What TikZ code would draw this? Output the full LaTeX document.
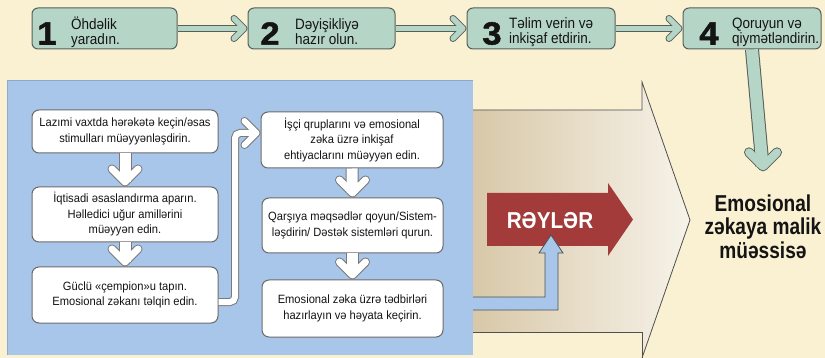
\documentclass[tikz,border=0pt]{standalone}
\usepackage{fontspec}
\setmainfont{Liberation Sans}
\newfontfamily\condfont{Liberation Sans}[FakeStretch=0.9]
\newfontfamily\boxfont{Liberation Sans}[FakeStretch=0.93]
\newfontfamily\numfont{Liberation Sans}[FakeStretch=1.08, BoldFeatures={FakeBold=1.6}]
\newfontfamily\goalfont{Liberation Sans}[FakeStretch=0.83]
\newfontfamily\redfont{Liberation Sans}[FakeStretch=0.9]
\usetikzlibrary{calc}
\definecolor{bgc}{HTML}{FAF0D2}
\definecolor{tealc}{HTML}{B5D5C7}
\definecolor{topline}{HTML}{56605B}
\definecolor{panelc}{HTML}{A8C6E9}
\definecolor{panelline}{HTML}{8FA9C8}
\definecolor{pline}{HTML}{6A6A6A}
\definecolor{wline}{HTML}{7A7A7A}
\definecolor{redc}{HTML}{A23B39}
\definecolor{tanl}{HTML}{D8C8A8}
\definecolor{tanr}{HTML}{F7F3EA}
\definecolor{inkc}{HTML}{141414}
\definecolor{arrline}{HTML}{4F4F4F}
% block connector: #1 path, #2 tip, #3 angle, #4 shaft width, #5 head size, #6 arm width, #7 kind
\newcommand\blockconn[7]{%
  \draw[#7out, line width=#4pt+2pt, shorten >=#6pt/2+1pt] #1;
  \draw[#7out, line width=#6pt+2pt, line cap=round, line join=round, shift={#2}, rotate=#3]
     (-#5-#6/2-1,-#5) -- (-#6/2-1,0) -- (-#5-#6/2-1,#5);
  \draw[#7in, line width=#4pt, shorten >=#6pt/2+1pt] #1;
  \draw[#7in, line width=#6pt, line cap=round, line join=round, shift={#2}, rotate=#3]
     (-#5-#6/2-1,-#5) -- (-#6/2-1,0) -- (-#5-#6/2-1,#5);
}
\begin{document}
\begin{tikzpicture}[x=1pt,y=-1pt,
  topbox/.style={draw=topline, fill=tealc, rounded corners=6pt, line width=1pt, minimum height=41pt, inner sep=0pt},
  numlbl/.style={font=\numfont\bfseries\fontsize{32}{32}\selectfont, inner sep=0pt, text=inkc},
  toplbl/.style={font=\condfont\fontsize{15}{15}\selectfont, align=left, anchor=west, inner sep=0pt, text=inkc},
  pbox/.style={draw=pline, fill=white, rounded corners=7pt, line width=1pt, align=center, inner sep=0pt, font=\boxfont\fontsize{12}{15.5}\selectfont, text=inkc},
  tealout/.style={draw=topline}, tealin/.style={draw=tealc},
  whiteout/.style={draw=wline}, whitein/.style={draw=white},
  shapeline/.style={draw=arrline, line width=0.8pt, line join=miter},
]
\useasboundingbox (0,0) rectangle (825,358);
\fill[bgc] (0,0) rectangle (825,358);

% panel
\fill[panelc] (7,80) rectangle (473,355);
\draw[panelline, line width=0.8pt] (473,80) -- (7,80) -- (7,355);

% big beige arrow
\shade[left color=tanl, right color=tanr] (473,110) -- (642,110) -- (642,82) -- (690,220) -- (642,358) -- (642,332) -- (473,332) -- cycle;
\draw[shapeline] (473,110) -- (642,110) -- (642,82) -- (690,220) -- (642,358);
\draw[shapeline] (642,358) -- (642,332) -- (473,332);

% red arrow
\fill[redc] (487,193) -- (608,193) -- (608,183) -- (633,219.5) -- (608,256) -- (608,246) -- (487,246) -- cycle;
\node[font=\redfont\bfseries\fontsize{23}{23}\selectfont, text=white, inner sep=0pt] (reyler) at (550,221) {RƏYLƏR};

% blue L arrow
\fill[panelc] (473,297) -- (545,297) -- (545,253) -- (539,253) -- (551,235) -- (563,253) -- (558,253) -- (558,310) -- (473,310) -- cycle;
\draw[shapeline] (473,297) -- (545,297) -- (545,253) -- (539,253) -- (551,235) -- (563,253) -- (558,253) -- (558,310) -- (473,310);

% top boxes
\node[topbox, minimum width=145pt] (t1) at (104.5,28.5) {};
\node[topbox, minimum width=147pt] (t2) at (321.5,28.5) {};
\node[topbox, minimum width=148pt] (t3) at (541,28.5) {};
\node[topbox, minimum width=138pt] (t4) at (752,28.5) {};
\node[numlbl] (n1) at (47,33.5) {1};
\node[numlbl] (n2) at (270,33.5) {2};
\node[numlbl] (n3) at (492,33.5) {3};
\node[numlbl] (n4) at (709,33.5) {4};
\node[toplbl] (x1) at (71,32) {Öhdəlik\\yaradın.};
\node[toplbl] (x2) at (295,32) {Dəyişikliyə\\hazır olun.};
\node[toplbl] (x3) at (509,32) {Təlim verin və\\inkişaf etdirin.};
\node[toplbl] (x4) at (732,32) {Qoruyun və\\qiymətləndirin.};

% goal text
\node[font=\goalfont\bfseries\fontsize{23}{23.5}\selectfont, align=center, inner sep=0pt, text=inkc] (goal) at (763,226.5) {Emosional\\zəkaya malik\\müəssisə};
\coordinate (gtip) at ([yshift=23pt]goal.north);

% panel boxes
\node[pbox, minimum width=186pt, minimum height=43pt] (A) at (125,131.5) {Lazımi vaxtda hərəkətə keçin/əsas\\stimulları müəyyənləşdirin.};
\node[pbox, minimum width=186pt, minimum height=55pt] (B) at (125,214.5) {İqtisadi əsaslandırma aparın.\\Həlledici uğur amillərini\\müəyyən edin.};
\node[pbox, minimum width=186pt, minimum height=56pt] (C) at (125,295) {Güclü «çempion»u tapın.\\Emosional zəkanı təlqin edin.};
\node[pbox, minimum width=182pt, minimum height=56pt] (D) at (352,140) {İşçi qruplarını və emosional\\zəka üzrə inkişaf\\ehtiyaclarını müəyyən edin.};
\node[pbox, minimum width=181pt, minimum height=55pt] (E) at (352.5,225.5) {Qarşıya məqsədlər qoyun/Sistem-\\ləşdirin/ Dəstək sistemləri qurun.};
\node[pbox, minimum width=181pt, minimum height=57pt] (F) at (352.5,308.5) {Emosional zəka üzrə tədbirləri\\hazırlayın və həyata keçirin.};

% connectors
\blockconn{(t1.east) -- (t2.west)}{(t2.west)}{0}{5}{10}{5}{teal}
\blockconn{(t2.east) -- (t3.west)}{(t3.west)}{0}{5}{10}{5}{teal}
\blockconn{(t3.east) -- (t4.west)}{(t4.west)}{0}{5}{10}{5}{teal}
\blockconn{(t4.south) -- (gtip)}{(gtip)}{-90}{12}{14}{8}{teal}

\blockconn{(A.south) -- (B.north)}{(B.north)}{-90}{11}{13}{7}{white}
\blockconn{(B.south) -- (C.north)}{(C.north)}{-90}{11}{13}{7}{white}
\blockconn{(D.south) -- (E.north)}{(E.north)}{-90}{11}{13}{7}{white}
\blockconn{(E.south) -- (F.north)}{(F.north)}{-90}{11}{13}{7}{white}

\coordinate (Cs) at ([yshift=-7pt]C.east);
\coordinate (Ds) at ([yshift=7pt]D.west);
\coordinate (elb) at (235,200);
\blockconn{[rounded corners=5pt] (Cs) -- (Cs -| elb) -- (elb |- Ds) -- (Ds)}{(Ds)}{0}{6}{12}{6}{white}
\end{tikzpicture}
\end{document}
